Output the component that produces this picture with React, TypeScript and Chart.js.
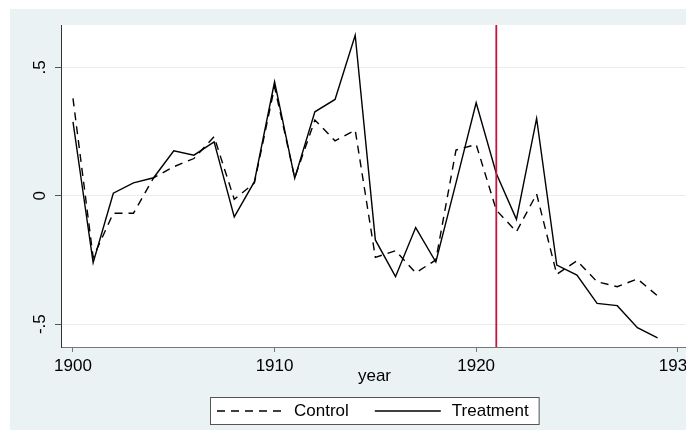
import React, { useEffect, useRef } from "react";
import { Chart, registerables } from "chart.js";

Chart.register(...registerables);

const years = [
  1900, 1901, 1902, 1903, 1904, 1905, 1906, 1907, 1908, 1909,
  1910, 1911, 1912, 1913, 1914, 1915, 1916, 1917, 1918, 1919,
  1920, 1921, 1922, 1923, 1924, 1925, 1926, 1927, 1928, 1929,
];
const controlValues = [
  0.379, -0.24, -0.068, -0.068, 0.07, 0.113, 0.145, 0.23, -0.014, 0.05,
  0.424, 0.07, 0.295, 0.214, 0.256, -0.24, -0.214, -0.3, -0.25, 0.178,
  0.2, -0.056, -0.14, 0.007, -0.306, -0.253, -0.335, -0.354, -0.324, -0.39,
];
const treatmentValues = [
  0.288, -0.261, 0.01, 0.05, 0.07, 0.175, 0.158, 0.21, -0.082, 0.055,
  0.444, 0.068, 0.327, 0.375, 0.625, -0.172, -0.315, -0.124, -0.258, 0.05,
  0.362, 0.087, -0.092, 0.301, -0.27, -0.309, -0.419, -0.428, -0.514, -0.553,
];
const seriesLabels = ["Control", "Treatment"];
const xTickValues = [1900, 1910, 1920, 1930];
const yTickValues = [-0.5, 0, 0.5];
const yTickLabels = ["-.5", "0", ".5"];
const xAxisTitle = "year";
const interventionYear = 1921;

const FONT = "'Liberation Sans', Arial, Helvetica, sans-serif";
const BG = "#EAF2F3";

const decorPlugin = {
  id: "stataDecor",
  beforeDraw(chart: any) {
    const { ctx, width, height, chartArea } = chart;
    ctx.save();
    ctx.fillStyle = BG;
    ctx.fillRect(2, 1, width - 2, height - 1);
    ctx.fillStyle = "#FFFFFF";
    ctx.fillRect(
      chartArea.left,
      chartArea.top,
      chartArea.right - chartArea.left,
      chartArea.bottom - chartArea.top
    );
    ctx.restore();
  },
  afterDatasetsDraw(chart: any) {
    const { ctx, chartArea, scales } = chart;
    const x = scales.x.getPixelForValue(interventionYear);
    ctx.save();
    ctx.strokeStyle = "#C8143C";
    ctx.lineWidth = 1.8;
    ctx.beginPath();
    ctx.moveTo(x, chartArea.top);
    ctx.lineTo(x, chartArea.bottom);
    ctx.stroke();
    ctx.restore();
  },
  afterDraw(chart: any) {
    const { ctx, chartArea, scales } = chart;
    ctx.save();
    // rotated y tick labels
    ctx.font = `17px ${FONT}`;
    ctx.fillStyle = "#000";
    ctx.textAlign = "center";
    ctx.textBaseline = "middle";
    const lx = chartArea.left - 21;
    yTickValues.forEach((v, i) => {
      const y = scales.y.getPixelForValue(v);
      ctx.save();
      ctx.translate(lx, y);
      ctx.rotate(-Math.PI / 2);
      ctx.fillText(yTickLabels[i], 0, 0);
      ctx.restore();
    });

    // legend
    const ds = chart.data.datasets;
    const pad = 7, lineLen = 66, gap = 11, between = 26, padR = 10;
    const w0 = ctx.measureText(ds[0].label).width;
    const w1 = ctx.measureText(ds[1].label).width;
    const total = pad + lineLen + gap + w0 + between + lineLen + gap + w1 + padR;
    const cx = (chartArea.left + chartArea.right) / 2;
    const left = Math.round(cx - total / 2);
    const top = chartArea.bottom + 50;
    const h = 27;
    ctx.fillStyle = "#FFFFFF";
    ctx.fillRect(left, top, total, h);
    ctx.strokeStyle = "#555";
    ctx.lineWidth = 1;
    ctx.strokeRect(left + 0.5, top + 0.5, total, h);
    const cy = top + h / 2 + 0.5;
    let xPos = left + pad;
    [0, 1].forEach((i) => {
      const d = ds[i];
      ctx.save();
      ctx.strokeStyle = d.borderColor;
      ctx.lineWidth = d.borderWidth;
      ctx.setLineDash(d.borderDash || []);
      ctx.beginPath();
      ctx.moveTo(xPos, cy);
      ctx.lineTo(xPos + lineLen, cy);
      ctx.stroke();
      ctx.restore();
      xPos += lineLen + gap;
      ctx.fillStyle = "#000";
      ctx.textAlign = "left";
      ctx.textBaseline = "middle";
      ctx.fillText(d.label, xPos, cy);
      xPos += (i === 0 ? w0 : w1) + between;
    });
    ctx.restore();
  },
};

export default function App() {
  const canvasRef = useRef<HTMLCanvasElement | null>(null);

  useEffect(() => {
    const canvas = canvasRef.current;
    if (!canvas) return;
    const chart = new Chart(canvas, {
      type: "line",
      data: {
        datasets: [
          {
            label: seriesLabels[0],
            data: years.map((yr, i) => ({ x: yr, y: controlValues[i] })),
            borderColor: "#000000",
            borderWidth: 1.4,
            borderDash: [8, 6],
            pointRadius: 0,
            tension: 0,
            fill: false,
          },
          {
            label: seriesLabels[1],
            data: years.map((yr, i) => ({ x: yr, y: treatmentValues[i] })),
            borderColor: "#000000",
            borderWidth: 1.4,
            pointRadius: 0,
            tension: 0,
            fill: false,
          },
        ],
      },
      options: {
        responsive: false,
        animation: false,
        devicePixelRatio: 1,
        layout: { padding: { left: 0, top: 17, right: 6, bottom: 0 } },
        plugins: {
          legend: { display: false },
          tooltip: { enabled: false },
        },
        scales: {
          x: {
            type: "linear",
            min: 1899.405,
            max: 1930.51,
            afterBuildTicks: (s: any) => {
              s.ticks = xTickValues.map((v) => ({ value: v }));
            },
            afterFit: (s: any) => {
              s.height = 91;
              s.paddingLeft = 0;
              s.paddingRight = 0;
            },
            ticks: {
              autoSkip: false,
              maxRotation: 0,
              minRotation: 0,
              padding: 4,
              color: "#000",
              font: { family: FONT, size: 17 },
              callback: (v: any) => String(v),
            },
            grid: {
              drawOnChartArea: false,
              drawTicks: true,
              tickLength: 5,
              tickColor: "#777",
              tickWidth: 1,
            },
            border: { display: true, color: "#777", width: 1 },
            title: {
              display: true,
              text: xAxisTitle,
              color: "#000",
              font: { family: FONT, size: 17 },
              padding: { top: 0, bottom: 51 },
            },
          },
          y: {
            type: "linear",
            min: -0.589,
            max: 0.665,
            afterBuildTicks: (s: any) => {
              s.ticks = yTickValues.map((v) => ({ value: v }));
            },
            afterFit: (s: any) => {
              s.width = 53;
              s.paddingTop = 0;
              s.paddingBottom = 0;
            },
            ticks: { display: false },
            grid: {
              color: "#E4EDEF",
              lineWidth: 1,
              drawTicks: true,
              tickLength: 6,
              tickColor: "#555",
              tickWidth: 1,
            },
            border: { display: true, color: "#333", width: 1 },
          },
        },
      },
      plugins: [decorPlugin],
    } as any);
    return () => chart.destroy();
  }, []);

  return (
    <div style={{ height: 422, width: 686, overflow: "visible" }}>
      <canvas
        ref={canvasRef}
        width={686}
        height={430}
        style={{ display: "block", width: 686, height: 430 }}
      />
    </div>
  );
}
